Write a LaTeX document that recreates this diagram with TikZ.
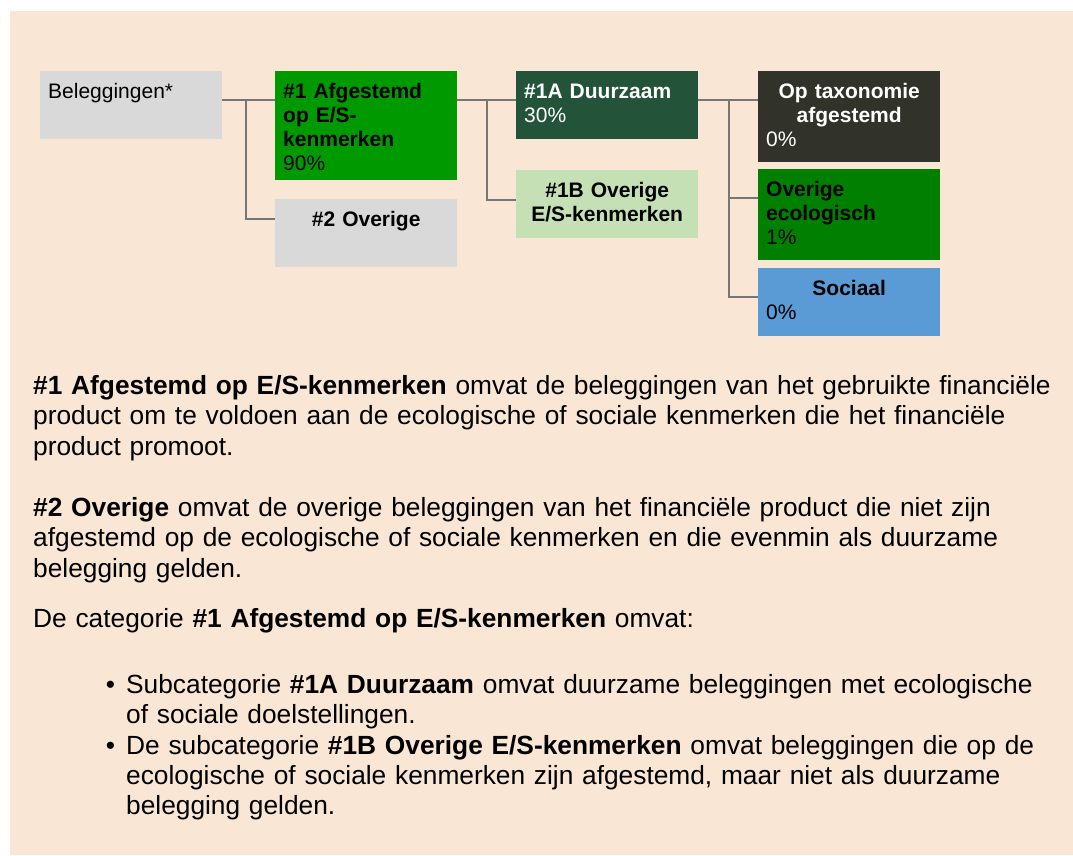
\documentclass[tikz,border=0pt]{standalone}
\usepackage{fontspec}
\setmainfont{Liberation Sans}
\definecolor{bgbeige}{HTML}{F9E6D4}
\definecolor{boxgray}{HTML}{D9D9D9}
\definecolor{esgreen}{HTML}{009900}
\definecolor{duurgreen}{HTML}{23543A}
\definecolor{lightgreen}{HTML}{C5E0B4}
\definecolor{taxdark}{HTML}{31332A}
\definecolor{ecogreen}{HTML}{007F00}
\definecolor{socblue}{HTML}{5B9BD5}
\definecolor{linegray}{HTML}{767676}
\begin{document}
\begin{tikzpicture}[x=1pt,y=-1pt,
    box/.style={rectangle,anchor=north west,inner xsep=8pt,inner ysep=6pt,
      text width=166pt,align=left,text height=21pt,text depth=#1,
      font=\fontsize{21}{24}\selectfont},
    box/.default=35pt,
    conn/.style={draw=linegray,line width=2pt},
    para/.style={anchor=north west,inner sep=0pt,text width=#1,align=left,
      text height=20pt,font=\fontsize{26.3}{30.4}\selectfont},
    para/.default=1035pt]
  \useasboundingbox (0,0) rectangle (1073,855);
  \fill[white] (0,0) rectangle (1073,855);
  \fill[bgbeige] (10,11) rectangle (1073,855);
  % tree
  \node[box,fill=boxgray] (bel) at (40,71) {Beleggingen*};
  \node[box=76pt,fill=esgreen] (es) at (275,71) {\textbf{\#1 Afgestemd\\op E/S-\\kenmerken}\\90\%};
  \node[box,fill=boxgray] (ov) at (275,199) {\makebox[166pt]{\textbf{\#2 Overige}}};
  \node[box,fill=duurgreen,text=white] (duur) at (516,71) {\textbf{\#1A Duurzaam}\\30\%};
  \node[box,fill=lightgreen] (ovES) at (516,170) {\makebox[166pt]{\textbf{\#1B Overige}}\\\makebox[166pt]{\textbf{E/S-kenmerken}}};
  \node[box=58pt,fill=taxdark,text=white] (tax) at (758,71) {\makebox[166pt]{\textbf{Op taxonomie}}\\\makebox[166pt]{\textbf{afgestemd}}\\0\%};
  \node[box=58pt,fill=ecogreen] (eco) at (758,169) {\textbf{Overige\\ecologisch}\\1\%};
  \node[box,fill=socblue] (soc) at (758,268) {\makebox[166pt]{\textbf{Sociaal}}\\0\%};
  \draw[conn] ([yshift=-29pt]bel.north east) -- ([yshift=-29pt]es.north west);
  \draw[conn] ([xshift=24pt,yshift=-29pt]bel.north east) |- ([yshift=-20pt]ov.north west);
  \draw[conn] ([yshift=-29pt]es.north east) -- ([yshift=-29pt]duur.north west);
  \draw[conn] ([xshift=30pt,yshift=-29pt]es.north east) |- ([yshift=-30pt]ovES.north west);
  \draw[conn] ([yshift=-29pt]duur.north east) -- ([yshift=-29pt]tax.north west);
  \draw[conn] ([xshift=31pt,yshift=-29pt]duur.north east) |- ([yshift=-29pt]eco.north west);
  \draw[conn] ([xshift=31pt,yshift=-29pt]duur.north east) |- ([yshift=-29pt]soc.north west);
  % explanation
  \node[para] (p1) at (33,374) {\textbf{\#1 Afgestemd op E/S-kenmerken} omvat de beleggingen van het gebruikte financiële\\product om te voldoen aan de ecologische of sociale kenmerken die het financiële\\product promoot.};
  \node[para] (p2) at (33,496) {\textbf{\#2 Overige} omvat de overige beleggingen van het financiële product die niet zijn\\afgestemd op de ecologische of sociale kenmerken en die evenmin als duurzame\\belegging gelden.};
  \node[para] (p3) at (33,607) {De categorie \textbf{\#1 Afgestemd op E/S-kenmerken} omvat:};
  \node[para=940pt] (lst) at (126,673) {\leavevmode\llap{•\hspace{11pt}}Subcategorie \textbf{\#1A Duurzaam} omvat duurzame beleggingen met ecologische\\of sociale doelstellingen.\\\leavevmode\llap{•\hspace{11pt}}De subcategorie \textbf{\#1B Overige E/S-kenmerken} omvat beleggingen die op de\\ecologische of sociale kenmerken zijn afgestemd, maar niet als duurzame\\belegging gelden.};
\end{tikzpicture}
\end{document}
